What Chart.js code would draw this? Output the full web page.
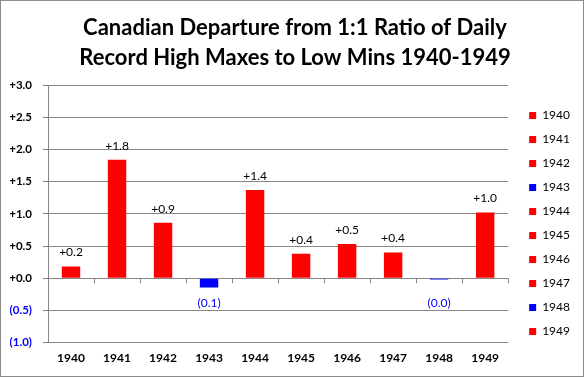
<!DOCTYPE html>
<html>
<head>
<meta charset="utf-8">
<script src="https://cdn.jsdelivr.net/npm/chart.js@4.4.1/dist/chart.umd.min.js"></script>
<style>
  html, body { margin: 0; padding: 0; background: #fff; }
  .chart-container {
    position: relative;
    width: 584px;
    height: 377px;
    box-sizing: border-box;
    border: 1px solid #8c8c8c;
  }
</style>
</head>
<body>
<div class="chart-container"><canvas id="chart"></canvas></div>
<script>
const years = ['1940', '1941', '1942', '1943', '1944', '1945', '1946', '1947', '1948', '1949'];
const departures = [0.18, 1.84, 0.86, -0.146, 1.37, 0.38, 0.53, 0.40, -0.02, 1.02];
const titleLines = ['Canadian Departure from 1:1 Ratio of Daily', 'Record High Maxes to Low Mins 1940-1949'];

const RED = '#FF0000';
const BLUE = '#0000FF';
const GRID = '#868686';
const barColors = departures.map(v => v < 0 ? BLUE : RED);

const fmt = v => v < 0 ? '(' + Math.abs(v).toFixed(1) + ')' : '+' + v.toFixed(1);

// value labels above/below bars + tick marks on the zero line
const barExtras = {
  id: 'barExtras',
  afterDatasetsDraw(chart) {
    const { ctx, chartArea, scales } = chart;
    const zeroY = scales.y.getPixelForValue(0);
    ctx.save();
    ctx.strokeStyle = GRID;
    ctx.lineWidth = 1;
    const n = years.length;
    const step = (chartArea.right - chartArea.left) / n;
    for (let i = 0; i <= n; i++) {
      const x = Math.round(chartArea.left + i * step) + 0.5;
      ctx.beginPath();
      ctx.moveTo(x, zeroY);
      ctx.lineTo(x, zeroY + 5);
      ctx.stroke();
    }
    ctx.font = '12px Lato';
    ctx.textAlign = 'center';
    ctx.textBaseline = 'middle';
    chart.getDatasetMeta(0).data.forEach((bar, i) => {
      const v = departures[i];
      if (v < 0) {
        ctx.fillStyle = BLUE;
        ctx.fillText(fmt(v), bar.x, Math.max(bar.y, zeroY + 10) + 15);
      } else {
        ctx.fillStyle = '#000';
        ctx.fillText(fmt(v), bar.x, bar.y - 14);
      }
    });
    ctx.restore();
  }
};

new Chart(document.getElementById('chart').getContext('2d'), {
  type: 'bar',
  data: {
    labels: years,
    datasets: [{
      label: 'Departure',
      data: departures,
      backgroundColor: barColors,
      barPercentage: 0.4,
      categoryPercentage: 1.0
    }]
  },
  options: {
    responsive: true,
    maintainAspectRatio: false,
    animation: false,
    layout: { padding: { left: 9, right: 3, top: 0, bottom: 3 } },
    plugins: {
      title: {
        display: true,
        text: titleLines,
        color: '#000',
        font: { family: 'Lato', size: 22, weight: 'bold', lineHeight: 30 / 22 },
        padding: { top: 12, bottom: 12 }
      },
      legend: {
        position: 'right',
        title: {
          display: true,
          text: ' ',
          font: { family: 'Lato', size: 12, lineHeight: 1 },
          padding: { top: 61, bottom: 0 }
        },
        labels: {
          boxWidth: 7,
          boxHeight: 7,
          padding: 12,
          color: '#000',
          font: { family: 'Lato', size: 12 },
          generateLabels: () => years.map((y, i) => ({
            text: y,
            fillStyle: barColors[i],
            strokeStyle: barColors[i],
            lineWidth: 0,
            hidden: false,
            index: i,
            fontColor: '#000'
          }))
        }
      },
      tooltip: { enabled: false }
    },
    scales: {
      x: {
        grid: { display: false, drawTicks: false },
        border: { display: false },
        ticks: {
          color: '#000',
          padding: 8,
          font: { family: 'Lato', size: 12, weight: 'bold' }
        }
      },
      y: {
        min: -1,
        max: 3,
        grid: { color: GRID, tickLength: 5, tickColor: GRID },
        border: { display: true, color: GRID },
        ticks: {
          stepSize: 0.5,
          padding: 11,
          color: ctx => ctx.tick.value < 0 ? BLUE : '#000',
          font: { family: 'Lato', size: 11.5, weight: 'bold' },
          callback: v => fmt(v)
        },
        afterFit: s => { s.width = 38; }
      },
      spacer: {
        type: 'linear',
        position: 'right',
        display: true,
        grid: { display: false, drawTicks: false },
        border: { display: false },
        ticks: { display: false },
        afterFit: s => { s.width = 9; }
      }
    }
  },
  plugins: [barExtras]
});
</script>
</body>
</html>
